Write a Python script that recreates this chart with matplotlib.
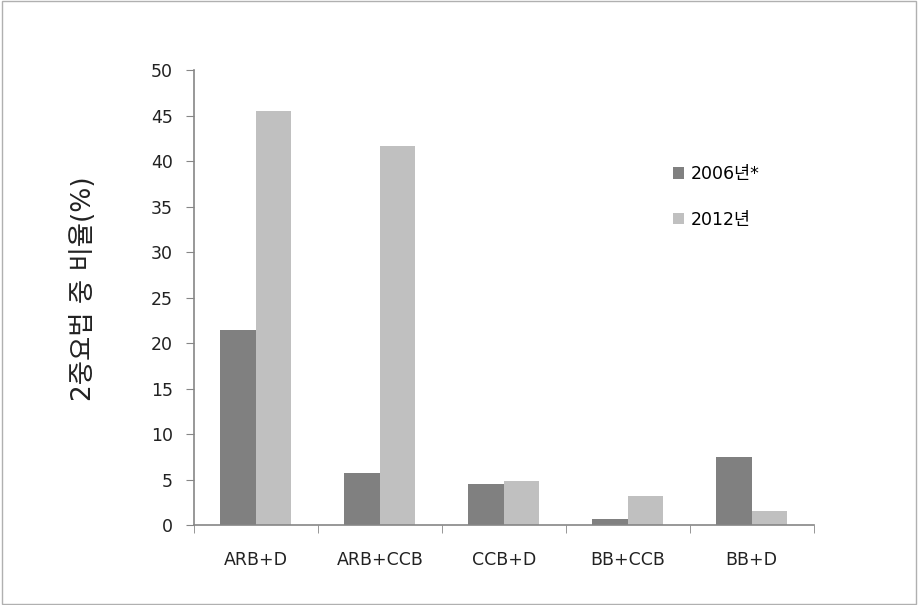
import matplotlib.pyplot as plt
from matplotlib.patches import Rectangle
import numpy as np

plt.rcParams['font.family'] = ['DejaVu Sans', 'Noto Sans CJK KR']

categories = ["ARB+D", "ARB+CCB", "CCB+D", "BB+CCB", "BB+D"]
series_names = ["2006년*", "2012년"]
values_2006 = [21.4, 5.7, 4.5, 0.7, 7.5]
values_2012 = [45.5, 41.6, 4.8, 3.2, 1.5]
colors = ["#808080", "#c0c0c0"]

fig = plt.figure(figsize=(9.18, 6.05), dpi=100)
ax = fig.add_axes([0.2113, 0.1322, 0.675, 0.752])

x = np.arange(len(categories))
w = 0.286
ax.bar(x - w / 2, values_2006, w, color=colors[0], label=series_names[0])
ax.bar(x + w / 2, values_2012, w, color=colors[1], label=series_names[1])

ax.set_xlim(-0.5, len(categories) - 0.5)
ax.set_ylim(0, 50)
ax.set_yticks(range(0, 51, 5))
ax.set_xticks(x)
ax.set_xticklabels(categories)
ax.set_xticks(np.arange(-0.5, len(categories), 1), minor=True)
ax.tick_params(axis='x', which='major', length=0, pad=19)
ax.tick_params(axis='x', which='minor', length=6, color="#868686", direction='out')
ax.tick_params(axis='y', length=6, color="#868686", direction='out', pad=9)
ax.tick_params(labelsize=12.5, labelcolor="#222222")

for s in ["top", "right"]:
    ax.spines[s].set_visible(False)
for s in ["left", "bottom"]:
    ax.spines[s].set_color("#868686")
    ax.spines[s].set_linewidth(1.2)

ax.set_ylabel("2중요법 중 비율(%)", fontsize=19, color="#222222")
ax.yaxis.set_label_coords(-0.156, 0.52)

ax.legend(loc='upper left', bbox_to_anchor=(0.748, 0.826), frameon=False,
          fontsize=12.5, handlelength=0.65, handleheight=0.65, handletextpad=0.35,
          labelspacing=1.6)

# outer frame around the whole figure
fig.patches.append(Rectangle((0.002, 0.002), 0.996, 0.996, transform=fig.transFigure,
                             fill=False, edgecolor="#b0b0b0", linewidth=1))

fig.savefig("out.png", dpi=100)
